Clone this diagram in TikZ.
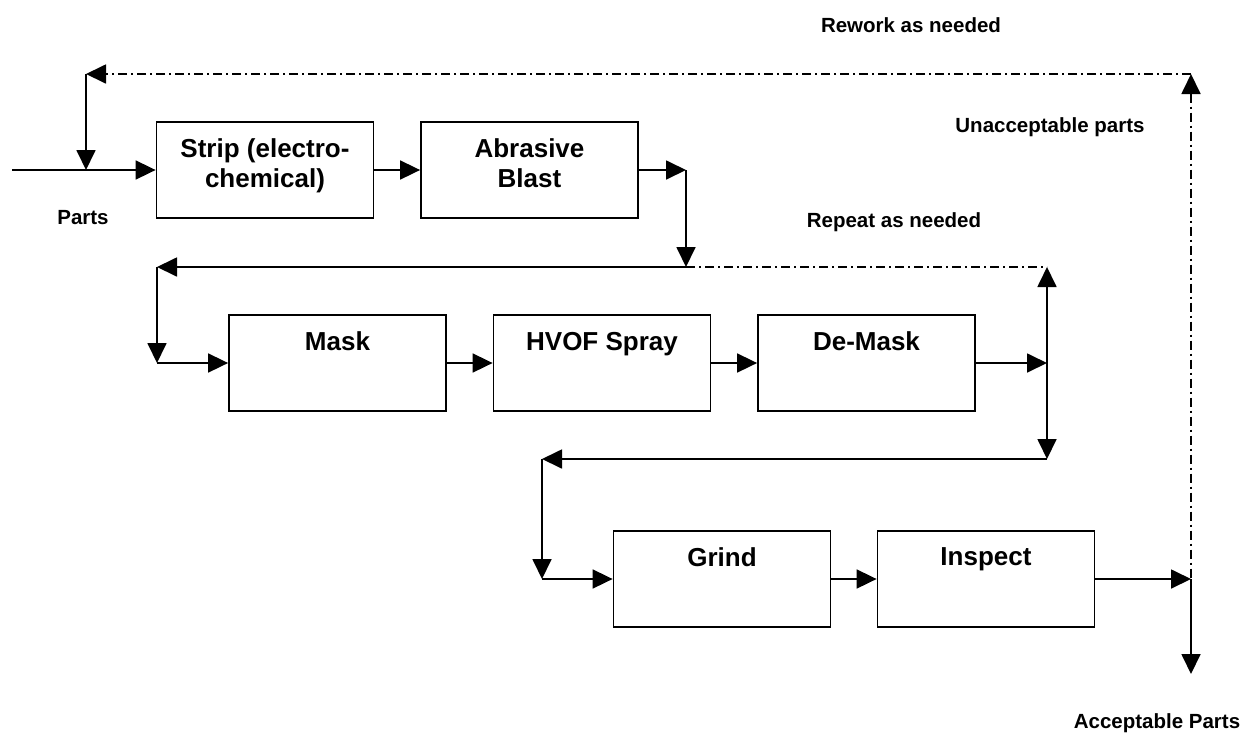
\documentclass[tikz,border=0pt]{standalone}
\usepackage{fontspec}
\setmainfont{Liberation Sans}
\usetikzlibrary{arrows.meta}

\begin{document}
\begin{tikzpicture}[x=1pt,y=-1pt,line width=1.8pt,>={Triangle[length=20pt,width=19pt]},
  stage/.style={draw,minimum width=217pt,minimum height=96pt,inner sep=0pt},
  stagetext/.style={anchor=north,inner sep=0pt,yshift=-17pt,align=center,font=\fontsize{26}{30}\selectfont\bfseries},
  note/.style={anchor=base,inner sep=0pt,font=\fontsize{20.5}{24}\selectfont\bfseries},
  dashdot/.style={dash pattern=on 9pt off 4pt on 2pt off 4pt}]
\useasboundingbox (0,0) rectangle (1243,732);

\node[stage] (strip) at (265,170) {};
\node[stagetext] (strip-t) at (strip.north) {Strip (electro-\\chemical)};
\node[stage] (abrasive) at (529.5,170) {};
\node[stagetext] (abrasive-t) at (abrasive.north) {Abrasive\\Blast};

\node[stage] (mask) at (337.5,363) {};
\node[stagetext] (mask-t) at (mask.north) {Mask};
\node[stage] (hvof) at (602,363) {};
\node[stagetext] (hvof-t) at (hvof.north) {HVOF Spray};
\node[stage] (demask) at (866.5,363) {};
\node[stagetext] (demask-t) at (demask.north) {De-Mask};

\node[stage] (grind) at (722,579) {};
\node[stagetext] (grind-t) at (grind.north) {Grind};
\node[stage] (inspect) at (986,579) {};
\node[stagetext] (inspect-t) at (inspect.north) {Inspect};

\coordinate (in) at (12,170);
\coordinate (rw) at (86,170);
\coordinate (rwtop) at (86,74);
\coordinate (rr) at (1191,74);
\coordinate (ab) at (686,170);
\coordinate (ab2) at (686,267);
\coordinate (rp) at (157,267);
\coordinate (rp2) at (157,363);
\coordinate (rpr) at (1047,267);
\coordinate (dm) at (1047,363);
\coordinate (dm2) at (1047,459);
\coordinate (gr) at (542,459);
\coordinate (gr2) at (542,579);
\coordinate (out) at (1191,579);
\coordinate (acc) at (1191,674);

% main line
\draw[->] (in) -- (strip);
\draw[->] (strip) -- (abrasive);
\draw[->] (abrasive) -- (ab);
\draw[->] (ab) -- (ab2);
\draw[->] (ab2) -- (rp);
\draw[->] (rp) -- (rp2);
\draw[->] (rp2) -- (mask);
\draw[->] (mask) -- (hvof);
\draw[->] (hvof) -- (demask);
\draw[->] (demask) -- (dm);
\draw[->] (dm) -- (rpr);
\draw[->] (dm) -- (dm2);
\draw[->] (dm2) -- (gr);
\draw[->] (gr) -- (gr2);
\draw[->] (gr2) -- (grind);
\draw[->] (grind) -- (inspect);
\draw[->] (inspect) -- (out);
\draw[->] (out) -- (acc);

% loops back
\draw[dashdot] (ab2) -- (rpr);
\draw[dashdot,<-] (rr) -- (out);
\draw[dashdot,->] (rr) -- (rwtop);
\draw[->] (rwtop) -- (rw);

\node[note] (parts) at (83,224) {Parts};
\node[note] (rework) at (911,32) {Rework as needed};
\node[note] (unacc) at (1050,132) {Unacceptable parts};
\node[note] (repeat) at (894,227) {Repeat as needed};
\node[note] (accept) at (1157,728) {Acceptable Parts};
\end{tikzpicture}
\end{document}
